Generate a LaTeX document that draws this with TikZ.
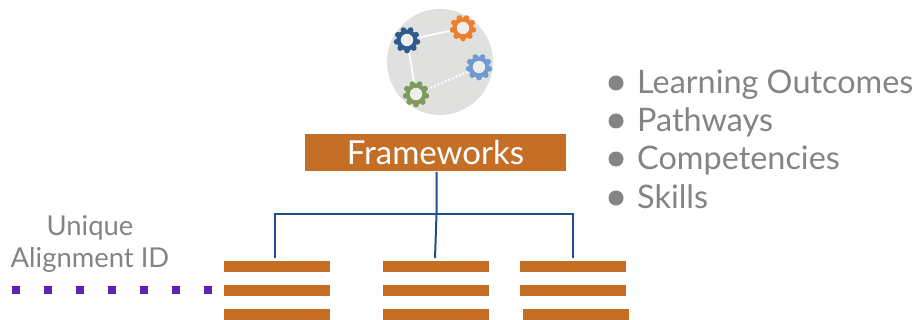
\documentclass[tikz,border=0pt]{standalone}
\usepackage{fontspec}
\setmainfont{Lato}
\definecolor{barc}{HTML}{C46E26}
\definecolor{linec}{HTML}{1F4E8C}
\definecolor{txtc}{HTML}{848484}
\definecolor{dotc}{HTML}{6420B4}
\definecolor{discc}{HTML}{E0E1DE}
\definecolor{gearb}{HTML}{2F5C8F}
\definecolor{gearo}{HTML}{EE7F2E}
\definecolor{gearl}{HTML}{6F9BD0}
\definecolor{gearg}{HTML}{7F9B5C}
\tikzset{
  x=1pt,y=-1pt,
  barbox/.style={fill=barc,draw=none,minimum width=106pt,minimum height=11pt,inner sep=0pt,outer sep=0pt},
  conn/.style={draw=linec,line width=2pt,line join=miter},
  dotbox/.style={fill=dotc,draw=none,minimum size=8pt,inner sep=0pt},
  bulletdot/.style={circle,fill=txtc,draw=none,minimum size=15pt,inner sep=0pt},
  itemtext/.style={text=txtc,font=\fontsize{32.4}{33}\selectfont,anchor=base west,inner sep=0pt},
  idtext/.style={text=txtc,font=\fontsize{27.4}{32}\selectfont,align=center,inner sep=0pt},
  whiteline/.style={draw=white,line width=1.7pt},
  pics/gear/.style={code={
    \foreach \a in {0,40,...,320}{\fill[#1] (\a+10:10.5) circle[radius=2.9pt];}
    \fill[#1] (0,0) circle[radius=10.5pt];
    \fill[discc!55!white] (0,0) circle[radius=6.2pt];
  }}
}
\begin{document}
\begin{tikzpicture}
\useasboundingbox (0,0) rectangle (920,320);
\node[circle,fill=discc,minimum size=106pt,inner sep=0pt] (disc) at (440,62) {};
\coordinate (gb) at (407,40);
\coordinate (go) at (463,28);
\coordinate (gl) at (479,67);
\coordinate (gg) at (416,94);
\draw[whiteline] (gb) -- (go);
\draw[whiteline] (gb) -- (gg);
\draw[draw=white,dotted,line width=1.9pt] (gg) -- (gl);
\pic at (gb) {gear=gearb};
\pic at (go) {gear=gearo};
\pic at (gl) {gear=gearl};
\pic at (gg) {gear=gearg};

\node[fill=barc,minimum width=261pt,minimum height=37pt,inner sep=0pt,text=white,font=\fontsize{33}{33}\selectfont] (fw) at (435.5,152.5) {Frameworks};

\foreach \n/\x/\y in {a1/277/266.5,a2/277/290.5,a3/277/314.5,b1/436/266.5,b2/436/290.5,b3/436/314.5,c1/573/266.5,c2/573/290.5,c3/576/314.5}
  \node[barbox] (\n) at (\x,\y) {};

\coordinate (hub) at (436.5,214.5);
\coordinate (ta) at (275,258);
\coordinate (tb) at (435,258);
\coordinate (tc) at (572.5,258);
\draw[conn] (436.7,172) -- (hub) -- (tb);
\draw[conn] (ta) |- (hub) -| (tc);

\node[idtext] (uid) at (90,244) {Unique\\Alignment ID};
\foreach \x [count=\i] in {16,48,80,112,144,176,208}
  \node[dotbox] (d\i) at (\x,290) {};

\foreach \y/\t [count=\i] in {94/Learning Outcomes,132/Pathways,170/Competencies,209/Skills}{
  \node[bulletdot] (bu\i) at (616,\y-11) {};
  \node[itemtext] (it\i) at (637,\y) {\t};
}
\end{tikzpicture}
\end{document}
